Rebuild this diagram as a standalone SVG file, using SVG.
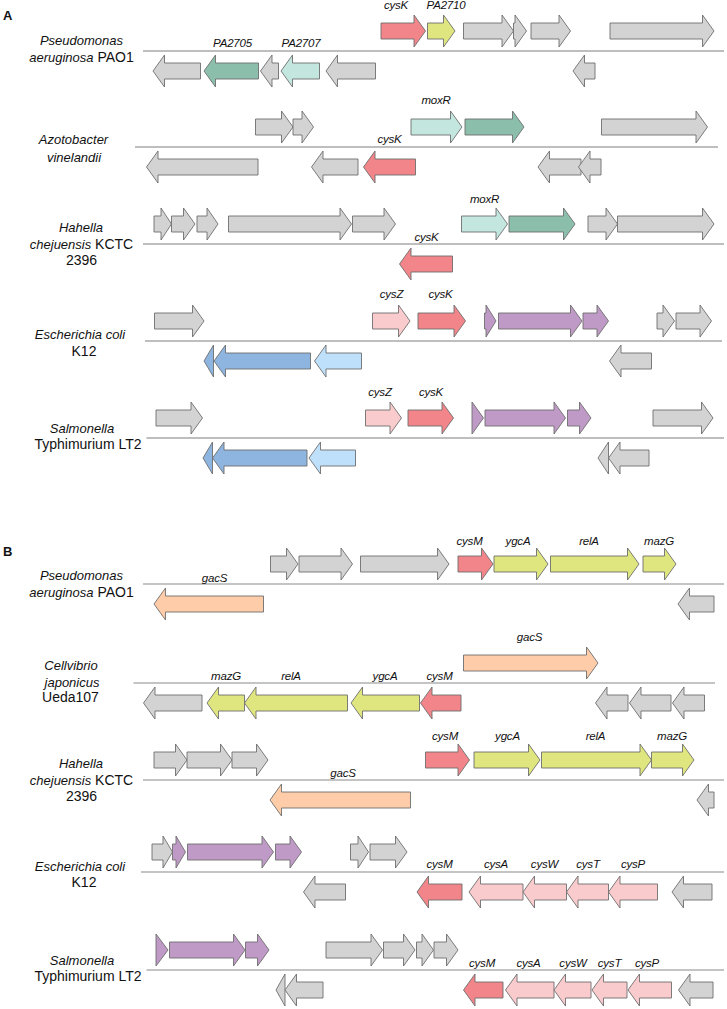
<svg xmlns="http://www.w3.org/2000/svg" width="727" height="1009" viewBox="0 0 727 1009">
<style>
text{font-family:"Liberation Sans",Arial,sans-serif}
.sp{font-size:14px;fill:#111;text-anchor:middle}
.i{font-style:italic;font-size:13px}
.g{font-size:11.5px;font-style:italic;fill:#111;text-anchor:middle;letter-spacing:-0.2px}
.pl{font-size:13px;font-weight:bold;fill:#111}
polygon{stroke:#6e6e6e;stroke-width:0.9;stroke-linejoin:miter}
.gy{fill:#d3d3d3}.rd{fill:#f28589}.yl{fill:#dfe57f}.dt{fill:#8bbfac}.lt{fill:#c3e7df}
.pk{fill:#f9cbcd}.pu{fill:#c09ac6}.bl{fill:#8db5e0}.lb{fill:#bfe0fb}.pe{fill:#fecca8}
.la{stroke:#a9a9a9;stroke-width:1.5}.lbk{stroke:#8a8a8a;stroke-width:1.2}
</style>
<text class="pl" x="3" y="20">A</text>
<text class="pl" x="3" y="556">B</text>
<g id="connectors">
<line class="la" x1="143" y1="51" x2="724" y2="51"/>
<line class="la" x1="135" y1="147" x2="718" y2="147"/>
<line class="la" x1="143" y1="244" x2="724" y2="244"/>
<line class="la" x1="145" y1="341" x2="722" y2="341"/>
<line class="la" x1="146.5" y1="438" x2="724" y2="438"/>
<line class="lbk" x1="143" y1="584" x2="724" y2="584"/>
<line class="lbk" x1="133.5" y1="683" x2="715" y2="683"/>
<line class="lbk" x1="143" y1="780" x2="724" y2="780"/>
<line class="lbk" x1="141" y1="872" x2="724" y2="872"/>
<line class="lbk" x1="146.5" y1="970" x2="724" y2="970"/>
</g>
<g id="rowA1">
<text class="sp i" x="81.5" y="45">Pseudomonas</text>
<text class="sp" x="81.5" y="62"><tspan class="i">aeruginosa</tspan> PAO1</text>
<polygon class="rd" points="381,23 414,23 414,15 425.5,31 414,47 414,39 381,39"/>
<polygon class="yl" points="427.5,23 443.5,23 443.5,15 455,31 443.5,47 443.5,39 427.5,39"/>
<polygon class="gy" points="463.5,23 502,23 502,15 513.5,31 502,47 502,39 463.5,39"/>
<polygon class="gy" points="513.5,23 515,23 515,15 526.5,31 515,47 515,39 513.5,39"/>
<polygon class="gy" points="531,23 559,23 559,15 570.5,31 559,47 559,39 531,39"/>
<polygon class="gy" points="610,23 702.5,23 702.5,15 714,31 702.5,47 702.5,39 610,39"/>
<polygon class="gy" points="200.5,63 164.5,63 164.5,55 153,71 164.5,87 164.5,79 200.5,79"/>
<polygon class="dt" points="258.5,63 215.5,63 215.5,55 204,71 215.5,87 215.5,79 258.5,79"/>
<polygon class="gy" points="278.5,63 272,63 272,55 260.5,71 272,87 272,79 278.5,79"/>
<polygon class="lt" points="319.5,63 292.5,63 292.5,55 281,71 292.5,87 292.5,79 319.5,79"/>
<polygon class="gy" points="375.5,63 337.5,63 337.5,55 326,71 337.5,87 337.5,79 375.5,79"/>
<polygon class="gy" points="595,63 584.5,63 584.5,55 573,71 584.5,87 584.5,79 595,79"/>
<text class="g" x="396" y="8.5">cysK</text>
<text class="g" x="446" y="8.5">PA2710</text>
<text class="g" x="232.5" y="47">PA2705</text>
<text class="g" x="301" y="47">PA2707</text>
</g>
<g id="rowA2">
<text class="sp i" x="73.5" y="144">Azotobacter</text>
<text class="sp i" x="74" y="162">vinelandii</text>
<polygon class="gy" points="255.5,119 281.5,119 281.5,111 293,127 281.5,143 281.5,135 255.5,135"/>
<polygon class="gy" points="293,119 302,119 302,111 313.5,127 302,143 302,135 293,135"/>
<polygon class="lt" points="411,119 450.5,119 450.5,111 462,127 450.5,143 450.5,135 411,135"/>
<polygon class="dt" points="465,119 512.5,119 512.5,111 524,127 512.5,143 512.5,135 465,135"/>
<polygon class="gy" points="601.5,119 696,119 696,111 707.5,127 696,143 696,135 601.5,135"/>
<polygon class="gy" points="258,159 158,159 158,151 146.5,167 158,183 158,175 258,175"/>
<polygon class="gy" points="358,159 323,159 323,151 311.5,167 323,183 323,175 358,175"/>
<polygon class="rd" points="415.5,159 375,159 375,151 363.5,167 375,183 375,175 415.5,175"/>
<polygon class="gy" points="581,159 549.5,159 549.5,151 538,167 549.5,183 549.5,175 581,175"/>
<polygon class="gy" points="601,159 590,159 590,151 578.5,167 590,183 590,175 601,175"/>
<text class="g" x="436" y="104">moxR</text>
<text class="g" x="389.5" y="143">cysK</text>
</g>
<g id="rowA3">
<text class="sp i" x="81" y="232">Hahella</text>
<text class="sp" x="81.5" y="249"><tspan class="i">chejuensis</tspan> KCTC</text>
<text class="sp" x="81.5" y="265">2396</text>
<polygon class="gy" points="154,216 161,216 161,208 171.5,224 161,240 161,232 154,232"/>
<polygon class="gy" points="171.5,216 183.5,216 183.5,208 195,224 183.5,240 183.5,232 171.5,232"/>
<polygon class="gy" points="197,216 207,216 207,208 218,224 207,240 207,232 197,232"/>
<polygon class="gy" points="228.5,216 340,216 340,208 351.5,224 340,240 340,232 228.5,232"/>
<polygon class="gy" points="352.5,216 384,216 384,208 395.5,224 384,240 384,232 352.5,232"/>
<polygon class="lt" points="461.5,216 496,216 496,208 507.5,224 496,240 496,232 461.5,232"/>
<polygon class="dt" points="509,216 563.5,216 563.5,208 575,224 563.5,240 563.5,232 509,232"/>
<polygon class="gy" points="588,216 606,216 606,208 617.5,224 606,240 606,232 588,232"/>
<polygon class="gy" points="617.5,216 702.5,216 702.5,208 714,224 702.5,240 702.5,232 617.5,232"/>
<polygon class="rd" points="452.5,256 411,256 411,248 399.5,264 411,280 411,272 452.5,272"/>
<text class="g" x="484.5" y="203">moxR</text>
<text class="g" x="426.5" y="241">cysK</text>
</g>
<g id="rowA4">
<text class="sp i" x="80" y="339">Escherichia coli</text>
<text class="sp" x="84" y="356">K12</text>
<polygon class="gy" points="154.5,313 192.5,313 192.5,305 204,321 192.5,337 192.5,329 154.5,329"/>
<polygon class="pk" points="372.5,313 398.5,313 398.5,305 410,321 398.5,337 398.5,329 372.5,329"/>
<polygon class="rd" points="418,313 454,313 454,305 465.5,321 454,337 454,329 418,329"/>
<polygon class="pu" points="484.5,313 486,313 486,305 496,321 486,337 486,329 484.5,329"/>
<polygon class="pu" points="498.5,313 570.5,313 570.5,305 582,321 570.5,337 570.5,329 498.5,329"/>
<polygon class="pu" points="583,313 597,313 597,305 608.5,321 597,337 597,329 583,329"/>
<polygon class="gy" points="657,313 663,313 663,305 674.5,321 663,337 663,329 657,329"/>
<polygon class="gy" points="676,313 700,313 700,305 711.5,321 700,337 700,329 676,329"/>
<polygon class="bl" points="213.5,353 213.5,353 213.5,345 204,361 213.5,377 213.5,369 213.5,369"/>
<polygon class="bl" points="310.5,353 225.5,353 225.5,345 214,361 225.5,377 225.5,369 310.5,369"/>
<polygon class="lb" points="361.5,353 326,353 326,345 314.5,361 326,377 326,369 361.5,369"/>
<polygon class="gy" points="651.5,353 621,353 621,345 609.5,361 621,377 621,369 651.5,369"/>
<text class="g" x="391.5" y="298">cysZ</text>
<text class="g" x="440.5" y="298">cysK</text>
</g>
<g id="rowA5">
<text class="sp i" x="82" y="433">Salmonella</text>
<text class="sp" x="88" y="449">Typhimurium LT2</text>
<polygon class="gy" points="156,410 191,410 191,402 202.5,418 191,434 191,426 156,426"/>
<polygon class="pk" points="365.5,410 390,410 390,402 401.5,418 390,434 390,426 365.5,426"/>
<polygon class="rd" points="408,410 442,410 442,402 453.5,418 442,434 442,426 408,426"/>
<polygon class="pu" points="472,410 472,410 472,402 483.5,418 472,434 472,426 472,426"/>
<polygon class="pu" points="485,410 554,410 554,402 565.5,418 554,434 554,426 485,426"/>
<polygon class="pu" points="567.5,410 579.5,410 579.5,402 591,418 579.5,434 579.5,426 567.5,426"/>
<polygon class="gy" points="653,410 701.5,410 701.5,402 713,418 701.5,434 701.5,426 653,426"/>
<polygon class="bl" points="212.5,450 212.5,450 212.5,442 203,458 212.5,474 212.5,466 212.5,466"/>
<polygon class="bl" points="307,450 224,450 224,442 212.5,458 224,474 224,466 307,466"/>
<polygon class="lb" points="355.5,450 320.5,450 320.5,442 309,458 320.5,474 320.5,466 355.5,466"/>
<polygon class="gy" points="608.5,450 608.5,450 608.5,442 598,458 608.5,474 608.5,466 608.5,466"/>
<polygon class="gy" points="649,450 620,450 620,442 608.5,458 620,474 620,466 649,466"/>
<text class="g" x="380" y="396">cysZ</text>
<text class="g" x="431" y="396">cysK</text>
</g>
<g id="rowB1">
<text class="sp i" x="81.5" y="580">Pseudomonas</text>
<text class="sp" x="81.5" y="597"><tspan class="i">aeruginosa</tspan> PAO1</text>
<polygon class="gy" points="270.5,556 286.5,556 286.5,548 298,564 286.5,580 286.5,572 270.5,572"/>
<polygon class="gy" points="299,556 341,556 341,548 352.5,564 341,580 341,572 299,572"/>
<polygon class="gy" points="360.5,556 437.5,556 437.5,548 449,564 437.5,580 437.5,572 360.5,572"/>
<polygon class="rd" points="458,556 481.5,556 481.5,548 493,564 481.5,580 481.5,572 458,572"/>
<polygon class="yl" points="494,556 536.5,556 536.5,548 548,564 536.5,580 536.5,572 494,572"/>
<polygon class="yl" points="550.5,556 627.5,556 627.5,548 639,564 627.5,580 627.5,572 550.5,572"/>
<polygon class="yl" points="643,556 664.5,556 664.5,548 676,564 664.5,580 664.5,572 643,572"/>
<polygon class="pe" points="263.5,596 165.5,596 165.5,588 154,604 165.5,620 165.5,612 263.5,612"/>
<polygon class="gy" points="714,596 689.5,596 689.5,588 678,604 689.5,620 689.5,612 714,612"/>
<text class="g" x="469.5" y="545">cysM</text>
<text class="g" x="518" y="545">ygcA</text>
<text class="g" x="589" y="545">relA</text>
<text class="g" x="659" y="545">mazG</text>
<text class="g" x="214.5" y="582">gacS</text>
</g>
<g id="rowB2">
<text class="sp i" x="71" y="670">Cellvibrio</text>
<text class="sp i" x="72" y="687">japonicus</text>
<text class="sp" x="70.5" y="702">Ueda107</text>
<polygon class="pe" points="463.5,655 586.5,655 586.5,647 598,663 586.5,679 586.5,671 463.5,671"/>
<polygon class="gy" points="202,695 155,695 155,687 143.5,703 155,719 155,711 202,711"/>
<polygon class="yl" points="244.5,695 218.5,695 218.5,687 207,703 218.5,719 218.5,711 244.5,711"/>
<polygon class="yl" points="347.5,695 256,695 256,687 244.5,703 256,719 256,711 347.5,711"/>
<polygon class="yl" points="419.5,695 362.5,695 362.5,687 351,703 362.5,719 362.5,711 419.5,711"/>
<polygon class="rd" points="461,695 432,695 432,687 420.5,703 432,719 432,711 461,711"/>
<polygon class="gy" points="628,695 607,695 607,687 595.5,703 607,719 607,711 628,711"/>
<polygon class="gy" points="671,695 641,695 641,687 629.5,703 641,719 641,711 671,711"/>
<polygon class="gy" points="704.5,695 684,695 684,687 672.5,703 684,719 684,711 704.5,711"/>
<text class="g" x="529.5" y="641">gacS</text>
<text class="g" x="226" y="680">mazG</text>
<text class="g" x="291" y="680">relA</text>
<text class="g" x="385" y="680">ygcA</text>
<text class="g" x="439.5" y="680">cysM</text>
</g>
<g id="rowB3">
<text class="sp i" x="81" y="768">Hahella</text>
<text class="sp" x="81.5" y="785"><tspan class="i">chejuensis</tspan> KCTC</text>
<text class="sp" x="81.5" y="801">2396</text>
<polygon class="gy" points="154,752 175.5,752 175.5,744 187,760 175.5,776 175.5,768 154,768"/>
<polygon class="gy" points="187,752 220.5,752 220.5,744 232,760 220.5,776 220.5,768 187,768"/>
<polygon class="gy" points="232,752 256.5,752 256.5,744 268,760 256.5,776 256.5,768 232,768"/>
<polygon class="rd" points="425.5,752 458,752 458,744 469.5,760 458,776 458,768 425.5,768"/>
<polygon class="yl" points="474,752 528.5,752 528.5,744 540,760 528.5,776 528.5,768 474,768"/>
<polygon class="yl" points="541.5,752 640,752 640,744 651.5,760 640,776 640,768 541.5,768"/>
<polygon class="yl" points="651.5,752 682.5,752 682.5,744 694,760 682.5,776 682.5,768 651.5,768"/>
<polygon class="pe" points="410.5,792 281.5,792 281.5,784 270,800 281.5,816 281.5,808 410.5,808"/>
<polygon class="gy" points="714,792 708.5,792 708.5,784 697,800 708.5,816 708.5,808 714,808"/>
<text class="g" x="445" y="740">cysM</text>
<text class="g" x="507.5" y="740">ygcA</text>
<text class="g" x="595.5" y="740">relA</text>
<text class="g" x="672" y="740">mazG</text>
<text class="g" x="343" y="777">gacS</text>
</g>
<g id="rowB4">
<text class="sp i" x="80" y="871">Escherichia coli</text>
<text class="sp" x="84" y="887">K12</text>
<polygon class="gy" points="152,844 163,844 163,836 172.5,852 163,868 163,860 152,860"/>
<polygon class="pu" points="172.5,844 176,844 176,836 185.5,852 176,868 176,860 172.5,860"/>
<polygon class="pu" points="187.5,844 262,844 262,836 273.5,852 262,868 262,860 187.5,860"/>
<polygon class="pu" points="275.5,844 290,844 290,836 301.5,852 290,868 290,860 275.5,860"/>
<polygon class="gy" points="350.5,844 358,844 358,836 368.5,852 358,868 358,860 350.5,860"/>
<polygon class="gy" points="370,844 395.5,844 395.5,836 407,852 395.5,868 395.5,860 370,860"/>
<polygon class="gy" points="345.5,884 315,884 315,876 303.5,892 315,908 315,900 345.5,900"/>
<polygon class="rd" points="462,884 428.5,884 428.5,876 417,892 428.5,908 428.5,900 462,900"/>
<polygon class="pk" points="523,884 480.5,884 480.5,876 469,892 480.5,908 480.5,900 523,900"/>
<polygon class="pk" points="566.5,884 534.5,884 534.5,876 523,892 534.5,908 534.5,900 566.5,900"/>
<polygon class="pk" points="608.5,884 578,884 578,876 566.5,892 578,908 578,900 608.5,900"/>
<polygon class="pk" points="657.5,884 620,884 620,876 608.5,892 620,908 620,900 657.5,900"/>
<polygon class="gy" points="712,884 683.5,884 683.5,876 672,892 683.5,908 683.5,900 712,900"/>
<text class="g" x="439.5" y="868">cysM</text>
<text class="g" x="496" y="868">cysA</text>
<text class="g" x="544.5" y="868">cysW</text>
<text class="g" x="588" y="868">cysT</text>
<text class="g" x="633" y="868">cysP</text>
</g>
<g id="rowB5">
<text class="sp i" x="82" y="965">Salmonella</text>
<text class="sp" x="88" y="981">Typhimurium LT2</text>
<polygon class="pu" points="156,942 156,942 156,934 168,950 156,966 156,958 156,958"/>
<polygon class="pu" points="169.5,942 233.5,942 233.5,934 245,950 233.5,966 233.5,958 169.5,958"/>
<polygon class="pu" points="245.5,942 257.5,942 257.5,934 269,950 257.5,966 257.5,958 245.5,958"/>
<polygon class="gy" points="326,942 371,942 371,934 382.5,950 371,966 371,958 326,958"/>
<polygon class="gy" points="383.5,942 403.5,942 403.5,934 415,950 403.5,966 403.5,958 383.5,958"/>
<polygon class="gy" points="416.5,942 422,942 422,934 433.5,950 422,966 422,958 416.5,958"/>
<polygon class="gy" points="434,942 446.5,942 446.5,934 458,950 446.5,966 446.5,958 434,958"/>
<polygon class="gy" points="285,982 285,982 285,974 276,990 285,1006 285,998 285,998"/>
<polygon class="gy" points="323,982 296.5,982 296.5,974 285,990 296.5,1006 296.5,998 323,998"/>
<polygon class="rd" points="503,982 475,982 475,974 463.5,990 475,1006 475,998 503,998"/>
<polygon class="pk" points="554,982 517,982 517,974 505.5,990 517,1006 517,998 554,998"/>
<polygon class="pk" points="591,982 565.5,982 565.5,974 554,990 565.5,1006 565.5,998 591,998"/>
<polygon class="pk" points="627,982 603.5,982 603.5,974 592,990 603.5,1006 603.5,998 627,998"/>
<polygon class="pk" points="671.5,982 639.5,982 639.5,974 628,990 639.5,1006 639.5,998 671.5,998"/>
<polygon class="gy" points="713,982 690,982 690,974 678.5,990 690,1006 690,998 713,998"/>
<text class="g" x="482" y="967">cysM</text>
<text class="g" x="528.5" y="967">cysA</text>
<text class="g" x="573" y="967">cysW</text>
<text class="g" x="609.5" y="967">cysT</text>
<text class="g" x="647" y="967">cysP</text>
</g>
</svg>
